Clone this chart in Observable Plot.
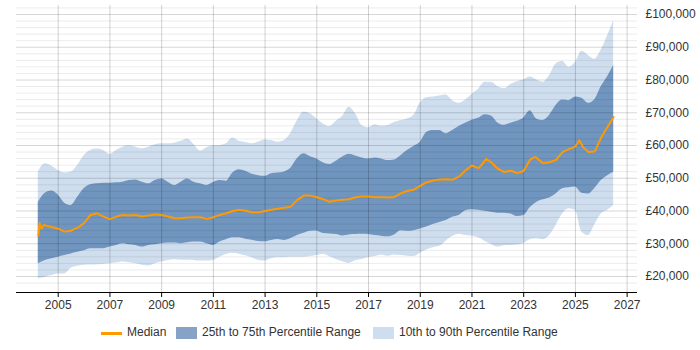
<!DOCTYPE html>
<html>
<head>
<meta charset="utf-8">
<script src="https://cdn.jsdelivr.net/npm/d3@7"></script>
<script src="https://cdn.jsdelivr.net/npm/@observablehq/plot@0.6"></script>
<style>
  body { margin: 0; background: #fff; font-family: "Liberation Sans", Arial, sans-serif; }
  #chart { position: relative; width: 700px; height: 350px; }
  #chart svg { position: absolute; left: 0; top: 0; overflow: visible; }
  .key { position: absolute; font-size: 12px; color: #333; line-height: 12px; white-space: nowrap; }
  .sw { position: absolute; }
</style>
</head>
<body>
<div id="chart"></div>
<script>
// Sample dates (decimal years) shared by the percentile bands
const years = [
  2004.23, 2004.5, 2004.75,
  2005, 2005.25, 2005.5, 2005.75,
  2006, 2006.25, 2006.5, 2006.75,
  2007, 2007.25, 2007.5, 2007.75,
  2008, 2008.25, 2008.5, 2008.75,
  2009, 2009.25, 2009.5, 2009.75,
  2010, 2010.25, 2010.5, 2010.75,
  2011, 2011.25, 2011.5, 2011.75,
  2012, 2012.25, 2012.5, 2012.75,
  2013, 2013.25, 2013.5, 2013.75,
  2014, 2014.25, 2014.5, 2014.75,
  2015, 2015.25, 2015.5, 2015.75,
  2016, 2016.25, 2016.5, 2016.75,
  2017, 2017.25, 2017.5, 2017.75,
  2018, 2018.25, 2018.5, 2018.75,
  2019, 2019.25, 2019.5, 2019.75,
  2020, 2020.25, 2020.5, 2020.75,
  2021, 2021.25, 2021.5, 2021.75,
  2022, 2022.25, 2022.5, 2022.75,
  2023, 2023.25, 2023.5, 2023.75,
  2024, 2024.25, 2024.5, 2024.75,
  2025, 2025.25, 2025.5, 2025.75,
  2026, 2026.25, 2026.48
];

// 90th percentile salary (£)
const p90 = [
  51900, 54400, 53700,
  52400, 51600, 51900, 53900,
  56900, 58500, 58900, 58500,
  57300, 58500, 59500, 59900,
  59500, 59000, 59500, 60200,
  60500, 60500, 60700, 61300,
  62000, 60300, 58300, 59300,
  59900, 60000, 60500, 62300,
  61300, 60900, 60500, 61100,
  61700, 61500, 61000, 61500,
  63800, 67600, 70200, 69700,
  68100, 66600, 65800, 67400,
  68900, 71700, 69700, 66100,
  65400, 66300, 65900, 66100,
  67000, 67600, 68100, 69200,
  73000, 74600, 74800, 75100,
  75400, 73700, 72900, 73900,
  75600, 77200, 79300, 79300,
  78000, 77300, 78600, 79500,
  80000, 80900, 80000, 79300,
  81400, 84900, 85700, 83900,
  85400, 88800, 87500, 86300,
  89200, 93600, 98200
];

// 75th percentile salary (£)
const p75 = [
  42700, 45400, 46100,
  44900, 42400, 41700, 44200,
  46800, 48000, 48300, 48500,
  48500, 48600, 48800, 49300,
  49500, 48800, 48300, 49300,
  49800, 48800, 47800, 48800,
  49800, 48800, 48300, 47800,
  48700, 49300, 49100, 51600,
  52600, 52100, 51200, 50800,
  50600, 51400, 51600, 51900,
  53100, 56000, 57500, 56600,
  55900, 54700, 54200, 55200,
  56500, 57300, 56800, 56200,
  55900, 56200, 55900, 55400,
  55600, 56900, 58500, 59700,
  61000, 64000, 64600, 64600,
  63600, 64600, 65800, 66800,
  67700, 68300, 69400, 69000,
  66900, 66200, 66800, 67400,
  68400, 70600, 68100, 67600,
  69200, 72200, 73900, 73700,
  74800, 74400, 72900, 74000,
  78000, 81100, 84400
];

// 25th percentile salary (£)
const p25 = [
  23900, 24900, 25400,
  25900, 26400, 26900, 27400,
  27900, 28500, 28500, 28500,
  29000, 29500, 30000, 29700,
  29500, 29000, 29500, 29700,
  30000, 30200, 30200, 30000,
  30300, 30500, 30500, 30000,
  29500, 30500, 31200, 31800,
  31800, 31400, 31100, 30700,
  30600, 31000, 31300, 31000,
  31600, 32500, 33200, 33800,
  33900, 33100, 33000, 32800,
  32400, 32700, 32800, 32900,
  32800, 32500, 32300, 32100,
  32700, 34000, 33800, 34000,
  34500, 35100, 35900, 36500,
  37100, 38100, 38600, 40100,
  40400, 40200, 39900, 39600,
  39300, 39300, 39100, 38300,
  38600, 41000, 42600, 43400,
  44000, 45200, 46800, 47100,
  47300, 45400, 45200, 46900,
  49300, 50800, 51800
];

// 10th percentile salary (£)
const p10 = [
  19300, 19800, 20300,
  20800, 20800, 22500, 23100,
  23400, 23500, 23600, 23700,
  23900, 24100, 24400, 24200,
  23900, 23400, 23200, 23900,
  24400, 24900, 25100, 25000,
  25000, 24900, 24700, 24700,
  24900, 25900, 26700, 27100,
  26800, 26300, 25700, 24900,
  24700, 25400, 25700, 25700,
  25900, 25900, 25900, 26100,
  26400, 26800, 26000, 25200,
  24500, 24000, 24800, 25200,
  25800, 26100, 26600, 26200,
  26600, 26400, 26200, 26100,
  27100, 28100, 28800, 29200,
  30800, 32200, 32900, 32500,
  32400, 31800, 30800, 29800,
  29000, 29400, 29500, 29600,
  30100, 31200, 31500, 31200,
  32500, 35600, 39100, 40700,
  40200, 33600, 32500, 35800,
  39100, 40200, 41700
];

// Median salary (£) with its own, slightly finer, sample dates
const medianYears = [
  2004.23, 2004.28, 2004.35, 2004.45, 2004.5, 2004.75,
  2005, 2005.25, 2005.5, 2005.75,
  2006, 2006.25, 2006.5, 2006.75,
  2007, 2007.25, 2007.5, 2007.75,
  2008, 2008.25, 2008.5, 2008.75,
  2009, 2009.25, 2009.5, 2009.75,
  2010, 2010.25, 2010.5, 2010.75,
  2011, 2011.25, 2011.5, 2011.75,
  2012, 2012.25, 2012.5, 2012.75,
  2013, 2013.25, 2013.5, 2013.75,
  2014, 2014.25, 2014.5, 2014.75,
  2015, 2015.25, 2015.5, 2015.75,
  2016, 2016.25, 2016.5, 2016.75,
  2017, 2017.25, 2017.5, 2017.75,
  2018, 2018.25, 2018.5, 2018.75,
  2019, 2019.25, 2019.5, 2019.75,
  2020, 2020.25, 2020.5, 2020.75,
  2021, 2021.25, 2021.4, 2021.55, 2021.75,
  2022, 2022.25, 2022.5, 2022.75,
  2023, 2023.25, 2023.45, 2023.75,
  2024, 2024.25, 2024.5, 2024.75,
  2025, 2025.15, 2025.3, 2025.5, 2025.75,
  2026, 2026.25, 2026.48
];
const median = [
  32500, 36300, 34600, 35800, 35600, 35100,
  34600, 33700, 34000, 34900,
  36300, 38800, 39300, 38300,
  37500, 38300, 38800, 38600,
  38800, 38300, 38600, 38900,
  38800, 38300, 37800, 37800,
  38000, 38100, 38100, 37600,
  38100, 38800, 39300, 40000,
  40400, 40100, 39600, 39600,
  40000, 40400, 40700, 41000,
  41400, 43400, 44700, 44700,
  44200, 43600, 42800, 43200,
  43400, 43600, 44200, 44400,
  44400, 44200, 44200, 44100,
  44300, 45400, 46100, 46500,
  47700, 48800, 49300, 49600,
  49700, 49600, 50500, 52400,
  53900, 53100, 54300, 55900, 54800,
  52900, 51900, 52300, 51600,
  52200, 55700, 56500, 54600,
  54900, 55600, 58000, 58900,
  59700, 61600, 59500, 58000, 58200,
  62500, 65800, 68700
];

// Axis ticks and gridline levels
const xTicks = [2005, 2007, 2009, 2011, 2013, 2015, 2017, 2019, 2021, 2023, 2025, 2027];
const yTicks = [20000, 30000, 40000, 50000, 60000, 70000, 80000, 90000, 100000];
const yMinor = [18000, 22000, 24000, 26000, 28000, 32000, 34000, 36000, 38000, 42000, 44000, 46000, 48000,
  52000, 54000, 56000, 58000, 62000, 64000, 66000, 68000, 72000, 74000, 76000, 78000,
  82000, 84000, 86000, 88000, 92000, 94000, 96000, 98000, 102000];

const bands = years.map((t, i) => ({t, p10: p10[i], p25: p25[i], p75: p75[i], p90: p90[i]}));
const medianRows = medianYears.map((t, i) => ({t, v: median[i]}));

const yMin = 15115, yMax = 102748;
const money = v => "£" + d3.format(",")(v);

const chart = Plot.plot({
  width: 700,
  height: 315,
  marginLeft: 16,
  marginRight: 63,
  marginTop: 5,
  marginBottom: 23,
  x: {domain: [2003.387, 2027.401]},
  y: {domain: [yMin, yMax]},
  style: {fontFamily: '"Liberation Sans", Arial, sans-serif', fontSize: "12px", color: "#333", background: "transparent"},
  marks: [
    Plot.areaY(bands, {x: "t", y1: "p10", y2: "p90", fill: "#cfdeee", curve: "monotone-x"}),
    Plot.areaY(bands, {x: "t", y1: "p25", y2: "p75", fill: "#7095bf", curve: "monotone-x"}),
    Plot.ruleY(yMinor, {stroke: "#000", strokeOpacity: 0.08}),
    Plot.ruleY(yTicks, {stroke: "#000", strokeOpacity: 0.16}),
    Plot.ruleX(xTicks, {stroke: "#000", strokeOpacity: 0.18}),
    Plot.line(medianRows, {x: "t", y: "v", stroke: "#ff9900", strokeWidth: 2}),
    Plot.ruleY([yMin], {stroke: "#000", strokeWidth: 1}),
    Plot.axisX({ticks: xTicks, tickFormat: d3.format("d"), tickSize: 5, tickPadding: 3, label: null, stroke: "#000", fill: "#333"}),
    Plot.axisY({anchor: "right", ticks: yTicks, tickFormat: money, tickSize: 0, tickPadding: 8, textAnchor: "start", label: null, fill: "#333"})
  ]
});

const root = document.getElementById("chart");
root.appendChild(chart);

// Legend below the chart
const legendItems = [
  {kind: "line", color: "#ff9900", label: "Median", x: 101},
  {kind: "box", color: "#86a3c7", label: "25th to 75th Percentile Range", x: 176},
  {kind: "box", color: "#cfdeee", label: "10th to 90th Percentile Range", x: 373}
];
const legendY = 333;
for (const item of legendItems) {
  const sw = document.createElement("div");
  sw.className = "sw";
  sw.style.left = item.x + "px";
  sw.style.width = "21px";
  sw.style.background = item.color;
  if (item.kind === "line") {
    sw.style.height = "3px";
    sw.style.top = (legendY - 1.5) + "px";
  } else {
    sw.style.height = "12px";
    sw.style.top = (legendY - 6) + "px";
  }
  root.appendChild(sw);
  const tx = document.createElement("div");
  tx.className = "key";
  tx.textContent = item.label;
  tx.style.left = (item.x + 26) + "px";
  tx.style.top = (legendY - 7) + "px";
  root.appendChild(tx);
}
</script>
</body>
</html>
